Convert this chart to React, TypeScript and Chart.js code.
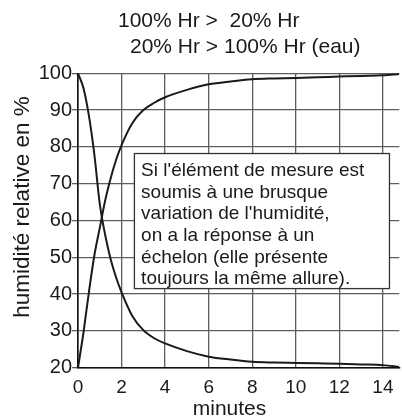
import { useEffect, useRef } from "react";
import { Chart, registerables } from "chart.js";

Chart.register(...registerables);

const TIME = [0, 0.25, 0.5, 0.75, 1, 1.25, 1.5, 1.75, 2, 2.5, 3, 3.5, 4, 5, 6, 7, 8, 9, 10, 11, 12, 13, 14, 14.75];
const DRYING = [100, 96, 88.5, 78, 64.5, 56, 49.5, 44.5, 40.5, 34, 30.2, 28, 26.6, 24.5, 23, 22.2, 21.6, 21.4, 21.3, 21.2, 21.1, 20.9, 20.7, 20.2];
const WETTING = [20, 29.5, 40.5, 50.5, 58, 65.5, 71.5, 76.5, 80.5, 86.5, 90, 92, 93.5, 95.5, 97, 97.8, 98.4, 98.6, 98.7, 98.9, 99.1, 99.3, 99.45, 99.8];

const X_MIN = 0;
const X_MAX = 14.75;
const X_STEP = 2;
const Y_MIN = 20;
const Y_MAX = 100;
const Y_STEP = 10;

const TITLE_LINES = ["100% Hr >  20% Hr", "20% Hr > 100% Hr (eau)"];
const X_TITLE = "minutes";
const Y_TITLE = "humidité relative en %";
const NOTE_LINES = [
  "Si l'élément de mesure est",
  "soumis à une brusque",
  "variation de l'humidité,",
  "on a la réponse à un",
  "échelon (elle présente",
  "toujours la même allure).",
];
// note box corners in data units
const NOTE_BOX = { x0: 2.59, x1: 14.3, yTop: 78.2, yBottom: 41.5 };

const FONT = "'Liberation Sans', Arial, Helvetica, sans-serif";
const INK = "#1a1a1a";
const GRID = "#5e5e5e";

const textPlugin = {
  id: "textPlugin",
  beforeDatasetsDraw(chart: any) {
    const { ctx, scales } = chart;
    const xs = scales.x;
    const ys = scales.y;
    const left = xs.getPixelForValue(NOTE_BOX.x0);
    const right = xs.getPixelForValue(NOTE_BOX.x1);
    const top = ys.getPixelForValue(NOTE_BOX.yTop);
    const bottom = ys.getPixelForValue(NOTE_BOX.yBottom);
    ctx.save();
    ctx.fillStyle = "#ffffff";
    ctx.fillRect(left, top, right - left, bottom - top);
    ctx.strokeStyle = "#333333";
    ctx.lineWidth = 1.3;
    ctx.strokeRect(left, top, right - left, bottom - top);
    ctx.fillStyle = INK;
    ctx.font = `19px ${FONT}`;
    ctx.textAlign = "left";
    ctx.textBaseline = "alphabetic";
    NOTE_LINES.forEach((line, i) => {
      ctx.fillText(line, left + 6.7, top + 22.7 + i * 21.6);
    });
    ctx.restore();
  },
  afterDraw(chart: any) {
    const { ctx } = chart;
    ctx.save();
    ctx.fillStyle = INK;
    ctx.font = `21px ${FONT}`;
    ctx.textAlign = "left";
    ctx.textBaseline = "alphabetic";
    ctx.fillText(TITLE_LINES[0], 118, 26.7);
    ctx.fillText(TITLE_LINES[1], 130, 52.7);
    ctx.textAlign = "center";
    ctx.fillText(X_TITLE, 229.5, 415);
    ctx.font = `22.5px ${FONT}`;
    ctx.translate(29, 207);
    ctx.rotate(-Math.PI / 2);
    ctx.fillText(Y_TITLE, 0, 0);
    ctx.restore();
  },
};

export default function App() {
  const ref = useRef<HTMLCanvasElement | null>(null);
  useEffect(() => {
    if (!ref.current) return;
    const chart = new Chart(ref.current, {
      type: "line",
      data: {
        datasets: [
          {
            label: "100% > 20%",
            data: TIME.map((t, i) => ({ x: t, y: DRYING[i] })),
            borderColor: INK,
            borderWidth: 2,
            pointRadius: 0,
            cubicInterpolationMode: "monotone",
            fill: false,
          },
          {
            label: "20% > 100%",
            data: TIME.map((t, i) => ({ x: t, y: WETTING[i] })),
            borderColor: INK,
            borderWidth: 2,
            pointRadius: 0,
            cubicInterpolationMode: "monotone",
            fill: false,
          },
        ],
      },
      options: {
        animation: false,
        responsive: false,
        layout: { padding: { top: 73.3, left: 0, right: 0, bottom: 0 } },
        plugins: {
          legend: { display: false },
          title: { display: false },
          tooltip: { enabled: false },
        },
        scales: {
          x: {
            type: "linear",
            min: X_MIN,
            max: X_MAX,
            afterFit(scale: any) {
              scale.height = 51.3;
            },
            ticks: {
              stepSize: X_STEP,
              includeBounds: false,
              color: INK,
              font: { family: FONT, size: 19 },
              padding: 8.5,
              maxRotation: 0,
              autoSkip: false,
            },
            grid: { color: GRID, lineWidth: 1.3, drawTicks: false },
            border: { color: "#111111", width: 1.6 },
          },
          y: {
            type: "linear",
            min: Y_MIN,
            max: Y_MAX,
            afterFit(scale: any) {
              scale.width = 78;
            },
            ticks: {
              stepSize: Y_STEP,
              color: INK,
              font: { family: FONT, size: 20 },
              padding: 0,
              autoSkip: false,
            },
            grid: { color: GRID, lineWidth: 1.3, drawTicks: true, tickLength: 6 },
            border: { color: "#111111", width: 1.6 },
          },
        },
      },
      plugins: [textPlugin],
    });
    return () => chart.destroy();
  }, []);
  return (
    <div style={{ position: "fixed", left: 0, top: 0, width: 402, height: 419, background: "#fff" }}>
      <canvas ref={ref} width={402} height={419} />
    </div>
  );
}
